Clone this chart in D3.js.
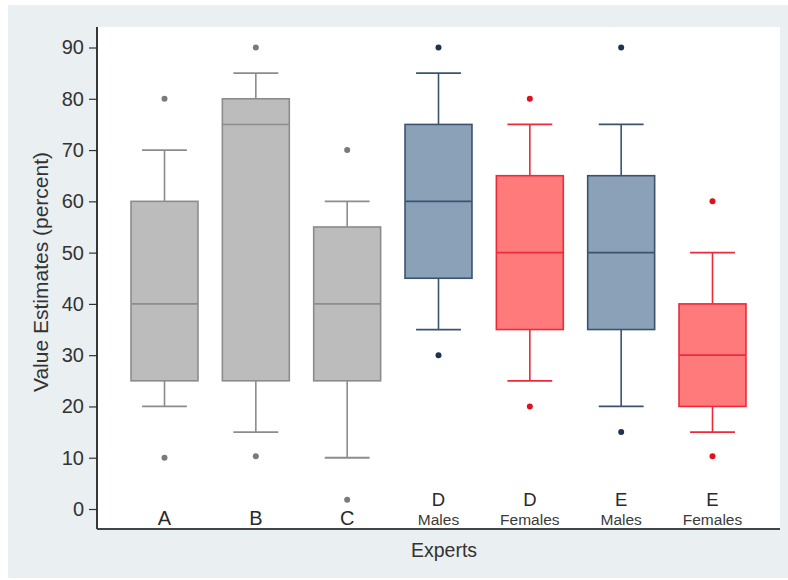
<!DOCTYPE html>
<html>
<head>
<meta charset="utf-8">
<script src="https://cdn.jsdelivr.net/npm/d3@7"></script>
<style>
  html, body { margin: 0; padding: 0; background: #ffffff; }
  svg { display: block; font-family: "Liberation Sans", Arial, sans-serif; }
</style>
</head>
<body>
<svg id="chart" width="788" height="580"></svg>
<script>
// ---- Data ----
const categories = ["A", "B", "C", "D Males", "D Females", "E Males", "E Females"];
const labelMain  = ["A", "B", "C", "D", "D", "E", "E"];
const labelSub   = ["", "", "", "Males", "Females", "Males", "Females"];
const groupType  = ["gray", "gray", "gray", "male", "female", "male", "female"];
const whiskerLow  = [20, 15, 10, 35, 25, 20, 15];
const q1          = [25, 25, 25, 45, 35, 35, 20];
const median      = [40, 75, 40, 60, 50, 50, 30];
const q3          = [60, 80, 55, 75, 65, 65, 40];
const whiskerHigh = [70, 85, 60, 85, 75, 75, 50];
const outliers    = [[80, 10], [90, 10.3], [70, 1.8], [90, 30], [80, 20], [90, 15], [60, 10.3]];
const yTicks = [0, 10, 20, 30, 40, 50, 60, 70, 80, 90];

const styles = {
  gray:   { fill: "#bcbcbc", stroke: "#8c8c8c", dot: "#7a7a7a" },
  male:   { fill: "#8aa1b8", stroke: "#3b536f", dot: "#1f3350" },
  female: { fill: "#ff7b7b", stroke: "#ec2a3a", dot: "#e0101c" }
};

const svg = d3.select("#chart");
const W = 788, H = 580;
const plot = { left: 97, right: 780, top: 27, bottom: 529 };

// outer background
svg.append("rect").attr("x", 8).attr("y", 5).attr("width", W - 8).attr("height", H - 7)
  .attr("fill", "#eaeff2");
// plot area
svg.append("rect").attr("x", plot.left).attr("y", plot.top)
  .attr("width", plot.right - plot.left).attr("height", plot.bottom - plot.top)
  .attr("fill", "#ffffff");

const y = d3.scaleLinear().domain([-3.9, 94]).range([plot.bottom, plot.top]);
const x = d3.scaleBand().domain(categories).range([plot.left, plot.right])
  .paddingInner(0.267).paddingOuter(0.3725);

const bw = x.bandwidth();
const capW = bw * 0.67;

const data = categories.map((c, i) => ({
  cat: c, lo: whiskerLow[i], q1: q1[i], med: median[i], q3: q3[i], hi: whiskerHigh[i],
  out: outliers[i], st: styles[groupType[i]], main: labelMain[i], sub: labelSub[i]
}));

const g = svg.append("g");
const boxes = g.selectAll("g.box").data(data).join("g").attr("class", "box");

// whiskers
boxes.append("line")
  .attr("x1", d => x(d.cat) + bw / 2).attr("x2", d => x(d.cat) + bw / 2)
  .attr("y1", d => y(d.hi)).attr("y2", d => y(d.q3))
  .attr("stroke", d => d.st.stroke).attr("stroke-width", 1.6);
boxes.append("line")
  .attr("x1", d => x(d.cat) + bw / 2).attr("x2", d => x(d.cat) + bw / 2)
  .attr("y1", d => y(d.q1)).attr("y2", d => y(d.lo))
  .attr("stroke", d => d.st.stroke).attr("stroke-width", 1.6);
// caps
boxes.append("line")
  .attr("x1", d => x(d.cat) + bw / 2 - capW / 2).attr("x2", d => x(d.cat) + bw / 2 + capW / 2)
  .attr("y1", d => y(d.hi)).attr("y2", d => y(d.hi))
  .attr("stroke", d => d.st.stroke).attr("stroke-width", 1.8);
boxes.append("line")
  .attr("x1", d => x(d.cat) + bw / 2 - capW / 2).attr("x2", d => x(d.cat) + bw / 2 + capW / 2)
  .attr("y1", d => y(d.lo)).attr("y2", d => y(d.lo))
  .attr("stroke", d => d.st.stroke).attr("stroke-width", 1.8);
// box
boxes.append("rect")
  .attr("x", d => x(d.cat)).attr("width", bw)
  .attr("y", d => y(d.q3)).attr("height", d => y(d.q1) - y(d.q3))
  .attr("fill", d => d.st.fill).attr("stroke", d => d.st.stroke).attr("stroke-width", 1.6);
// median
boxes.append("line")
  .attr("x1", d => x(d.cat)).attr("x2", d => x(d.cat) + bw)
  .attr("y1", d => y(d.med)).attr("y2", d => y(d.med))
  .attr("stroke", d => d.st.stroke).attr("stroke-width", 1.6);
// outliers
boxes.each(function(d) {
  d3.select(this).selectAll("circle").data(d.out).join("circle")
    .attr("cx", x(d.cat) + bw / 2).attr("cy", v => y(v)).attr("r", 3)
    .attr("fill", d.st.dot);
});

// category labels
boxes.append("text")
  .attr("x", d => x(d.cat) + bw / 2)
  .attr("y", d => d.sub ? 506 : 525)
  .attr("text-anchor", "middle").attr("font-size", d => d.sub ? 18.5 : 20).attr("fill", "#2a2a2a")
  .text(d => d.main);
boxes.filter(d => d.sub).append("text")
  .attr("x", d => x(d.cat) + bw / 2)
  .attr("y", 525)
  .attr("text-anchor", "middle").attr("font-size", 15.5).attr("fill", "#3a3a3a")
  .text(d => d.sub);

// y axis
const yAxis = svg.append("g").attr("transform", `translate(${plot.left},0)`)
  .call(d3.axisLeft(y).tickValues(yTicks).tickSize(8).tickPadding(5));
yAxis.select(".domain").remove();
yAxis.selectAll(".tick line").attr("stroke", "#333").attr("stroke-width", 1.2);
yAxis.selectAll(".tick text").attr("font-size", 20).attr("fill", "#333")
  .attr("font-family", "'Liberation Sans', Arial, sans-serif");
svg.append("line").attr("x1", plot.left).attr("x2", plot.left)
  .attr("y1", plot.top).attr("y2", plot.bottom).attr("stroke", "#222").attr("stroke-width", 1.8);
svg.append("line").attr("x1", plot.left).attr("x2", plot.right)
  .attr("y1", plot.bottom).attr("y2", plot.bottom).attr("stroke", "#444").attr("stroke-width", 1.8);

// axis titles
svg.append("text").attr("transform", "translate(48,272) rotate(-90)")
  .attr("text-anchor", "middle").attr("font-size", 21).attr("fill", "#333")
  .text("Value Estimates (percent)");
svg.append("text").attr("x", 444).attr("y", 557)
  .attr("text-anchor", "middle").attr("font-size", 19.5).attr("fill", "#333")
  .text("Experts");
</script>
</body>
</html>
